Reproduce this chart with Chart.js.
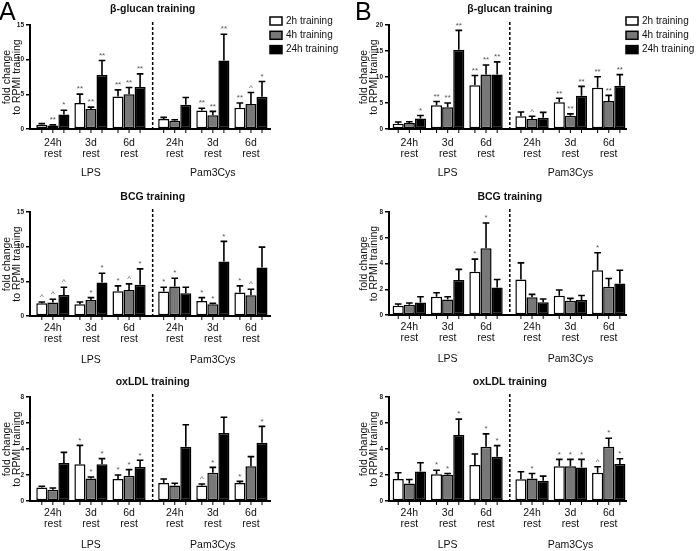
<!DOCTYPE html>
<html>
<head>
<meta charset="utf-8">
<script src="https://cdn.jsdelivr.net/npm/chart.js@4.4.1/dist/chart.umd.min.js"></script>
<style>
  body { margin: 0; background: #fff; width: 696px; height: 551px; overflow: hidden; position: relative; }
  canvas { position: absolute; }
</style>
</head>
<body>
<canvas id="a1" width="348" height="185" style="left:0;top:0"></canvas>
<canvas id="b1" width="348" height="185" style="left:348px;top:0"></canvas>
<canvas id="a2" width="348" height="190" style="left:0;top:180px"></canvas>
<canvas id="b2" width="348" height="190" style="left:348px;top:180px"></canvas>
<canvas id="a3" width="348" height="191" style="left:0;top:360px"></canvas>
<canvas id="b3" width="348" height="191" style="left:348px;top:360px"></canvas>
<script>
// categories
const restLabels = [["24h", "rest"], ["3d", "rest"], ["6d", "rest"]];
const stimulusLabels = ["LPS", "Pam3Cys"];
const seriesNames = ["2h training", "4h training", "24h training"];

// rows: 2h, 4h, 24h training; columns: LPS 24h/3d/6d, Pam3Cys 24h/3d/6d
const glucanA_mean = [[0.62, 3.74, 4.7, 1.44, 2.68, 3.07], [0.5, 2.87, 5.03, 1.2, 2.0, 3.6], [2.1, 7.8, 6.04, 3.5, 9.87, 4.65]];
const glucanA_sem  = [[0.15, 1.29, 0.95, 0.24, 0.32, 0.67], [0.1, 0.29, 0.96, 0.14, 0.54, 1.67], [0.6, 2.07, 1.91, 1.05, 3.79, 2.2]];
const glucanA_sig  = [["", "**", "**", "", "**", "**"], ["**", "**", "**", "", "**", "^"], ["*", "**", "**", "", "**", "*"]];

const glucanB_mean = [[1.03, 4.55, 8.4, 2.44, 5.13, 7.95], [1.15, 4.17, 10.5, 1.92, 2.56, 5.38], [2.0, 15.26, 10.5, 2.18, 6.4, 8.33]];
const glucanB_sem  = [[0.32, 0.75, 1.9, 0.83, 0.77, 2.11], [0.25, 0.83, 1.8, 0.52, 0.34, 1.09], [0.6, 3.71, 2.4, 1.02, 1.8, 2.12]];
const glucanB_sig  = [["", "**", "**", "", "**", "**"], ["", "**", "**", "^", "**", "**"], ["*", "**", "**", "", "**", "**"]];

const bcgA_mean = [[1.83, 1.69, 3.57, 3.52, 2.17, 3.38], [1.93, 2.32, 3.76, 4.24, 1.69, 2.99], [3.04, 4.82, 4.49, 3.28, 7.86, 7.0]];
const bcgA_sem  = [[0.2, 0.34, 0.77, 0.63, 0.48, 0.96], [0.48, 0.33, 0.87, 1.21, 0.14, 0.87], [1.11, 1.35, 2.31, 0.87, 2.9, 2.94]];
const bcgA_sig  = [["^", "", "*", "*", "*", "*"], ["^", "*", "^", "*", "*", "^"], ["^", "*", "*", "", "*", ""]];

const bcgB_mean = [[0.72, 1.42, 3.35, 2.76, 1.5, 3.48], [0.8, 1.21, 5.19, 1.37, 1.11, 2.19], [0.98, 2.71, 2.14, 1.0, 1.16, 2.45]];
const bcgB_sem  = [[0.13, 0.31, 0.99, 1.29, 0.44, 1.35], [0.13, 0.21, 1.96, 0.23, 0.18, 0.65], [0.44, 0.83, 0.62, 0.24, 0.36, 1.03]];
const bcgB_sig  = [["", "", "*", "", "", "*"], ["", "", "*", "", "", ""], ["", "", "", "", "", ""]];

const oxldlA_mean = [[1.03, 2.82, 1.69, 1.38, 1.2, 1.38], [0.87, 1.74, 1.95, 1.2, 2.18, 2.67], [2.92, 2.82, 2.62, 4.18, 5.23, 4.49]];
const oxldlA_sem  = [[0.1, 1.46, 0.31, 0.31, 0.11, 0.13], [0.13, 0.11, 0.46, 0.16, 0.41, 0.74], [0.82, 0.44, 0.51, 1.69, 1.21, 1.25]];
const oxldlA_sig  = [["", "*", "*", "", "^", "*"], ["", "*", "*", "", "*", ""], ["", "*", "*", "", "", "*"]];

const oxldlB_mean = [[1.7, 2.06, 2.76, 1.68, 2.68, 2.17], [1.34, 2.01, 4.18, 1.73, 2.68, 4.18], [2.27, 5.08, 3.41, 1.55, 2.58, 2.84]];
const oxldlB_sem  = [[0.47, 0.31, 0.85, 0.57, 0.52, 0.46], [0.31, 0.11, 0.98, 0.39, 0.52, 0.65], [0.67, 1.22, 0.85, 0.36, 0.62, 0.41]];
const oxldlB_sig  = [["", "*", "", "", "*", "^"], ["", "*", "*", "*", "*", "*"], ["", "*", "*", "", "*", "*"]];

const FONT = '"Liberation Sans", Arial, sans-serif';
Chart.defaults.font.family = FONT;
const seriesFill = ['#ffffff', '#787878', '#000000'];
// group positions on the x axis: a wider gap where the dashed line splits LPS / Pam3Cys
const groupX = [0, 1, 2, 3.2, 4.2, 5.2];

const figurePlugin = {
  id: 'figure',
  afterDraw(chart, args, o) {
    const ctx = chart.ctx, ca = chart.chartArea, xs = chart.scales.x, ys = chart.scales.y;
    ctx.save();
    const dx = xs.getPixelForValue(o.sepAt);

    // dashed separator
    ctx.strokeStyle = '#000';
    ctx.lineWidth = 1.5;
    ctx.setLineDash([3, 2]);
    ctx.beginPath();
    ctx.moveTo(dx, ca.top - 3);
    ctx.lineTo(dx, ca.bottom);
    ctx.stroke();
    ctx.setLineDash([]);

    // error bars, small x ticks, significance marks
    chart.data.datasets.forEach((ds, di) => {
      chart.getDatasetMeta(di).data.forEach((bar, i) => {
        const top = ys.getPixelForValue(ds.data[i].y + ds.sem[i]);
        const cap = bar.width * 0.3;
        ctx.strokeStyle = '#000';
        ctx.lineWidth = 1.6;
        ctx.beginPath();
        ctx.moveTo(bar.x, bar.y);
        ctx.lineTo(bar.x, top);
        ctx.moveTo(bar.x - cap, top);
        ctx.lineTo(bar.x + cap, top);
        ctx.stroke();

        ctx.lineWidth = 1;
        ctx.beginPath();
        ctx.moveTo(bar.x, ca.bottom);
        ctx.lineTo(bar.x, ca.bottom + 4);
        ctx.stroke();

        if (ds.sig[i]) {
          ctx.fillStyle = '#555';
          ctx.font = '8px ' + FONT;
          ctx.textAlign = 'center';
          ctx.textBaseline = 'bottom';
          ctx.fillText(ds.sig[i], bar.x, top - 1);
        }
      });
    });

    // stimulus labels
    ctx.fillStyle = '#111';
    ctx.font = '10.5px ' + FONT;
    ctx.textAlign = 'center';
    ctx.textBaseline = 'middle';
    stimulusLabels.forEach((t, k) => {
      ctx.fillText(t, xs.getPixelForValue(groupX[k * 3 + 1]), ca.bottom + o.stimOffset);
    });

    // panel title
    ctx.font = 'bold 10.5px ' + FONT;
    ctx.fillText(o.title, dx, ca.top - o.titleOffset);

    // y axis title
    ctx.font = '10.5px ' + FONT;
    const cy = (ca.top + ca.bottom) / 2;
    ["fold change", "to RPMI training"].forEach((t, k) => {
      ctx.save();
      ctx.translate(o.yTitleX + k * 10, cy);
      ctx.rotate(-Math.PI / 2);
      ctx.fillText(t, 0, 0);
      ctx.restore();
    });

    // legend
    if (o.legend) {
      chart.data.datasets.forEach((ds, k) => {
        const ly = ca.top - 4 + k * 14.3;
        ctx.fillStyle = ds.backgroundColor;
        ctx.fillRect(ca.right, ly - 4, 12, 8);
        ctx.strokeStyle = '#000';
        ctx.lineWidth = 1.5;
        ctx.strokeRect(ca.right, ly - 4, 12, 8);
        ctx.fillStyle = '#111';
        ctx.font = '10px ' + FONT;
        ctx.textAlign = 'left';
        ctx.fillText(ds.label, ca.right + 16, ly);
      });
    }

    // panel letter
    if (o.letter) {
      ctx.fillStyle = '#000';
      ctx.font = '25px ' + FONT;
      ctx.textAlign = 'left';
      ctx.textBaseline = 'alphabetic';
      ctx.fillText(o.letter.text, o.letter.x, 20);
    }
    ctx.restore();
  }
};

function buildPanel(id, p) {
  const datasets = seriesNames.map((name, s) => ({
    label: name,
    data: groupX.map((x, i) => ({ x: x, y: p.mean[s][i] })),
    sem: p.sem[s],
    sig: p.sig[s],
    backgroundColor: seriesFill[s],
    borderColor: '#000',
    borderWidth: 1.5,
    borderSkipped: false,
    categoryPercentage: 0.87,
    barPercentage: 1
  }));
  return new Chart(document.getElementById(id), {
    type: 'bar',
    data: { datasets: datasets },
    options: {
      responsive: false,
      animation: false,
      devicePixelRatio: 1,
      layout: { padding: { top: p.top, right: p.right, left: 0, bottom: 0 } },
      plugins: {
        legend: { display: false },
        tooltip: { enabled: false },
        figure: {
          sepAt: 2.62, title: p.title, titleOffset: p.titleOffset, stimOffset: 44,
          yTitleX: p.yTitleX, legend: p.legend, letter: p.letter
        }
      },
      scales: {
        x: {
          type: 'linear', min: p.xMin, max: p.xMax, offset: false,
          afterBuildTicks: s => { s.ticks = groupX.map(v => ({ value: v })); },
          afterFit: s => { s.height = p.xHeight; },
          grid: { display: false, drawTicks: false },
          border: { display: true, color: '#000', width: 2 },
          ticks: {
            callback: (v, i) => restLabels[i % 3],
            font: { size: 10.5, lineHeight: 1.1 }, color: '#111', padding: p.tickPad,
            maxRotation: 0, autoSkip: false
          }
        },
        y: {
          min: 0, max: p.yMax,
          afterFit: s => { s.width = p.axisX; },
          ticks: { stepSize: p.yStep, font: { size: 6.5, weight: 'bold' }, color: '#222', padding: 2 },
          grid: { drawOnChartArea: false, color: '#000', lineWidth: 1.5, tickLength: 4 },
          border: { color: '#000', width: 2 }
        }
      }
    },
    plugins: [figurePlugin]
  });
}

const colA = { axisX: 30, right: 78, xMin: -0.6, xMax: 5.7, yTitleX: 7 };
const colB = { axisX: 41, right: 70, xMin: -0.53, xMax: 5.65, yTitleX: 16 };

buildPanel('a1', Object.assign({}, colA, { title: 'β-glucan training', mean: glucanA_mean, sem: glucanA_sem, sig: glucanA_sig,
  yMax: 15, yStep: 5, top: 25, xHeight: 56, tickPad: 8, titleOffset: 16, legend: true, letter: { text: 'A', x: -1 } }));
buildPanel('b1', Object.assign({}, colB, { title: 'β-glucan training', mean: glucanB_mean, sem: glucanB_sem, sig: glucanB_sig,
  yMax: 20, yStep: 5, top: 25, xHeight: 56, tickPad: 8, titleOffset: 16, legend: true, letter: { text: 'B', x: 7 } }));
buildPanel('a2', Object.assign({}, colA, { title: 'BCG training', mean: bcgA_mean, sem: bcgA_sem, sig: bcgA_sig,
  yMax: 15, yStep: 5, top: 32, xHeight: 54, tickPad: 6, titleOffset: 15 }));
buildPanel('b2', Object.assign({}, colB, { title: 'BCG training', mean: bcgB_mean, sem: bcgB_sem, sig: bcgB_sig,
  yMax: 8, yStep: 2, top: 32, xHeight: 55, tickPad: 6, titleOffset: 15 }));
buildPanel('a3', Object.assign({}, colA, { title: 'oxLDL training', mean: oxldlA_mean, sem: oxldlA_sem, sig: oxldlA_sig,
  yMax: 8, yStep: 2, top: 37, xHeight: 50, tickPad: 6, titleOffset: 15 }));
buildPanel('b3', Object.assign({}, colB, { title: 'oxLDL training', mean: oxldlB_mean, sem: oxldlB_sem, sig: oxldlB_sig,
  yMax: 8, yStep: 2, top: 37, xHeight: 50, tickPad: 6, titleOffset: 15 }));
</script>
</body>
</html>
